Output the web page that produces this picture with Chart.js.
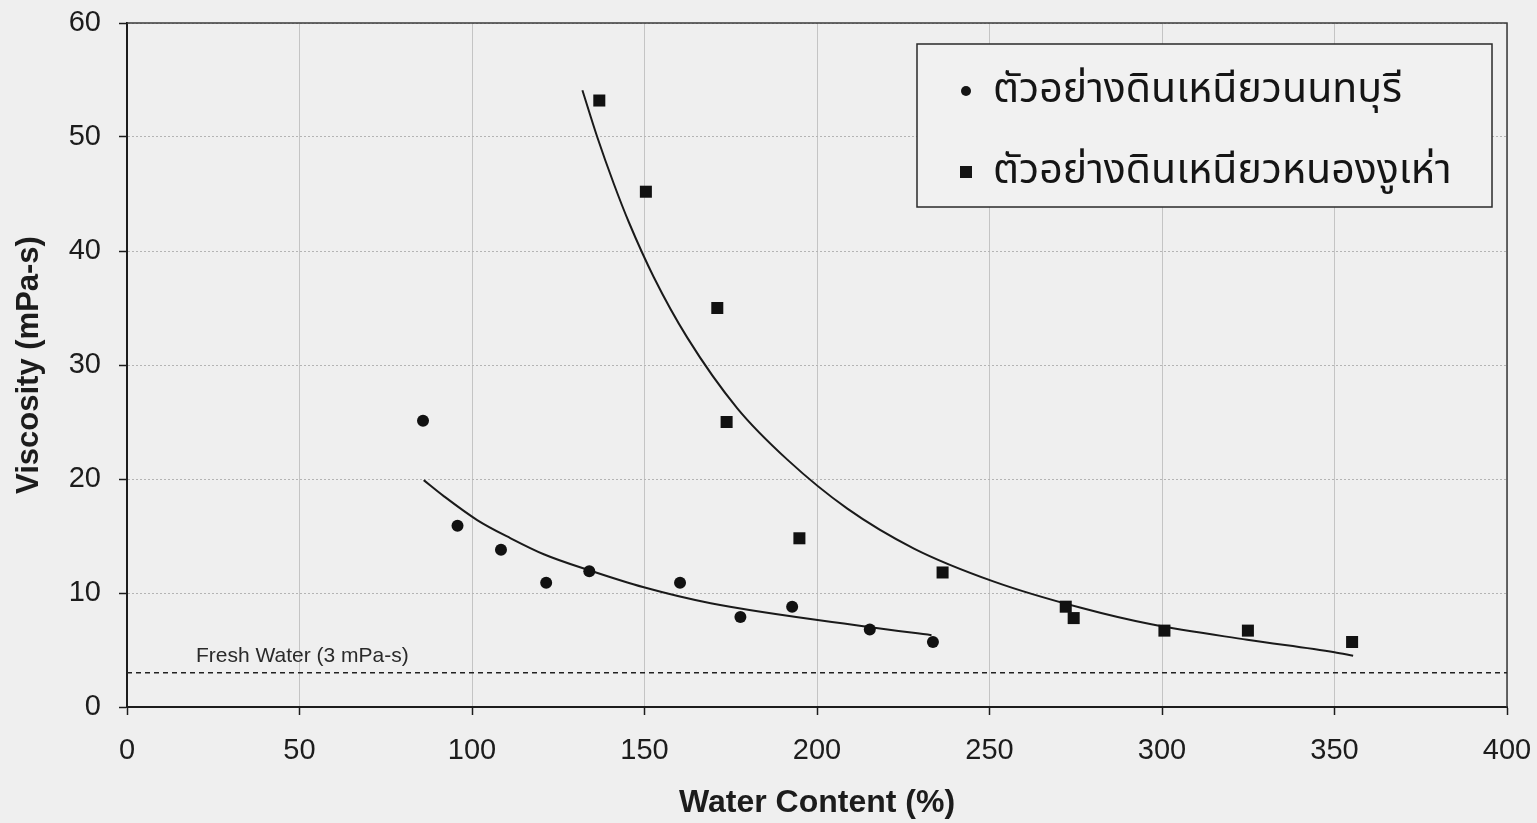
<!DOCTYPE html>
<html>
<head>
<meta charset="utf-8">
<script src="https://cdn.jsdelivr.net/npm/chart.js@4.4.1/dist/chart.umd.min.js"></script>
<style>
html, body { margin: 0; padding: 0; background: #efefef; }
</style>
</head>
<body>
<canvas id="viscosity-chart" width="1537" height="823"></canvas>
<script>
// Viscosity of clay samples vs water content
const nonthaburiLabel = 'ตัวอย่างดินเหนียวนนทบุรี';
const nonthaburiX = [85.8, 95.8, 108.4, 121.5, 134.0, 160.3, 177.8, 192.8, 215.3, 233.6];
const nonthaburiY = [25.1, 15.9, 13.8, 10.9, 11.9, 10.9, 7.9, 8.8, 6.8, 5.7];

const nongnguhaoLabel = 'ตัวอย่างดินเหนียวหนองงูเห่า';
const nongnguhaoX = [136.9, 150.4, 171.1, 173.8, 194.9, 236.4, 272.1, 274.4, 300.7, 324.9, 355.1];
const nongnguhaoY = [53.2, 45.2, 35.0, 25.0, 14.8, 11.8, 8.8, 7.8, 6.7, 6.7, 5.7];

// trend curves, points
const trendNonthaburiX = [86.0, 91.8, 101.5, 111.2, 120.8, 134.4, 149.8, 169.2, 215.5, 233.2];
const trendNonthaburiY = [19.9, 18.5, 16.4, 14.8, 13.4, 11.95, 10.5, 9.1, 7.0, 6.3];
const trendNongnguhaoX = [132.0, 136.3, 141.1, 145.5, 152.7, 162.4, 176.9, 191.4, 208.8, 228.1, 251.3, 276.5, 296.9, 324.7, 350.0, 355.4];
const trendNongnguhaoY = [54.1, 50.0, 45.9, 42.5, 37.7, 32.4, 26.2, 21.7, 17.4, 13.9, 11.0, 8.7, 7.25, 5.9, 4.8, 4.5];

// fresh water reference level
const freshWaterLabel = 'Fresh Water (3 mPa-s)';
const freshWaterX = [0, 400];
const freshWaterY = [3, 3];

const xTitle = 'Water Content (%)';
const yTitle = 'Viscosity (mPa-s)';

const toPoints = (xs, ys) => xs.map((x, i) => ({ x: x, y: ys[i] }));

const ink = '#1c1c1c';
const axisFont = "'Liberation Sans', Arial, sans-serif";
const thaiFont = "'Noto Sans Thai', 'Noto Sans', 'DejaVu Sans', sans-serif";

const paperBackground = {
    id: 'paperBackground',
    beforeDraw(chart) {
        const ctx = chart.ctx;
        ctx.save();
        ctx.fillStyle = '#efefef';
        ctx.fillRect(0, 0, chart.width, chart.height);
        ctx.restore();
    }
};

const plotFrame = {
    id: 'plotFrame',
    beforeDatasetsDraw(chart) {
        const a = chart.chartArea;
        const ctx = chart.ctx;
        ctx.save();
        ctx.strokeStyle = '#3a3a3a';
        ctx.lineWidth = 1.5;
        ctx.beginPath();
        ctx.moveTo(a.left, a.top);
        ctx.lineTo(a.right, a.top);
        ctx.lineTo(a.right, a.bottom);
        ctx.stroke();
        ctx.restore();
    }
};

const freshWaterNote = {
    id: 'freshWaterNote',
    afterDatasetsDraw(chart) {
        const ctx = chart.ctx;
        const x = chart.scales.x.getPixelForValue(20);
        const y = chart.scales.y.getPixelForValue(freshWaterY[0]);
        ctx.save();
        ctx.font = '21px ' + axisFont;
        ctx.fillStyle = '#2a2a2a';
        ctx.textBaseline = 'alphabetic';
        ctx.fillText(freshWaterLabel, x, y - 11);
        ctx.restore();
    }
};

const boxedLegend = {
    id: 'boxedLegend',
    afterDraw(chart) {
        const ctx = chart.ctx;
        const left = 917, top = 44, w = 575, h = 163;
        ctx.save();
        ctx.fillStyle = '#f1f1f1';
        ctx.fillRect(left, top, w, h);
        ctx.strokeStyle = '#2a2a2a';
        ctx.lineWidth = 1.5;
        ctx.strokeRect(left, top, w, h);
        ctx.fillStyle = '#151515';
        ctx.font = '41px ' + thaiFont;
        ctx.textBaseline = 'alphabetic';
        const rows = [chart.data.datasets[0], chart.data.datasets[1]];
        rows.forEach((ds, i) => {
            const cy = top + 47 + i * 81;
            if (ds.pointStyle === 'rect') {
                ctx.fillRect(left + 43, cy - 6, 12, 12);
            } else {
                ctx.beginPath();
                ctx.arc(left + 49, cy, 5, 0, Math.PI * 2);
                ctx.fill();
            }
            ctx.fillText(ds.label, left + 76, cy + 11);
        });
        ctx.restore();
    }
};

// drop the extra room chart.js keeps for the end tick labels
function trimScale(scale) {
    scale.paddingTop = 0;
    scale.paddingRight = 0;
}

const viscosityChart = new Chart(document.getElementById('viscosity-chart'), {
    type: 'scatter',
    data: {
        datasets: [{
            label: nonthaburiLabel,
            data: toPoints(nonthaburiX, nonthaburiY),
            pointStyle: 'circle',
            pointRadius: 6,
            backgroundColor: '#111',
            borderColor: '#111',
            borderWidth: 0
        }, {
            label: nongnguhaoLabel,
            data: toPoints(nongnguhaoX, nongnguhaoY),
            pointStyle: 'rect',
            pointRadius: 8.5,
            backgroundColor: '#111',
            borderColor: '#111',
            borderWidth: 0
        }, {
            label: 'trend-nonthaburi',
            data: toPoints(trendNonthaburiX, trendNonthaburiY),
            showLine: true,
            pointRadius: 0,
            borderColor: '#1a1a1a',
            borderWidth: 2,
            cubicInterpolationMode: 'monotone'
        }, {
            label: 'trend-nongnguhao',
            data: toPoints(trendNongnguhaoX, trendNongnguhaoY),
            showLine: true,
            pointRadius: 0,
            borderColor: '#1a1a1a',
            borderWidth: 2,
            cubicInterpolationMode: 'monotone'
        }, {
            label: 'fresh-water',
            data: toPoints(freshWaterX, freshWaterY),
            showLine: true,
            pointRadius: 0,
            borderColor: '#222',
            borderWidth: 1.5,
            borderDash: [5, 4]
        }]
    },
    options: {
        responsive: false,
        animation: false,
        layout: { padding: { left: 0, right: 30, top: 23, bottom: 0 } },
        plugins: {
            legend: { display: false },
            tooltip: { enabled: false }
        },
        scales: {
            x: {
                type: 'linear',
                min: 0,
                max: 400,
                ticks: { stepSize: 50, color: ink, padding: 19, font: { family: axisFont, size: 29 } },
                grid: { color: '#c4c4c4', lineWidth: 1, tickLength: 8, tickColor: ink, tickWidth: 1.5 },
                border: { color: ink, width: 2 },
                title: { display: true, text: xTitle, color: ink, padding: { bottom: 1 }, font: { family: axisFont, size: 32, weight: 'bold' } },
                afterFit(scale) { scale.height = 116; trimScale(scale); }
            },
            y: {
                type: 'linear',
                min: 0,
                max: 60,
                ticks: { stepSize: 10, color: ink, padding: 18, font: { family: axisFont, size: 29 } },
                grid: { color: '#b4b4b4', lineWidth: 1, tickLength: 8, tickColor: ink, tickWidth: 1.5 },
                border: { color: ink, width: 2, dash: [2, 2] },
                title: { display: true, text: yTitle, color: ink, padding: { top: 11 }, font: { family: axisFont, size: 31, weight: 'bold' } },
                afterFit(scale) { scale.width = 127; trimScale(scale); }
            }
        }
    },
    plugins: [paperBackground, plotFrame, freshWaterNote, boxedLegend]
});
</script>
</body>
</html>
